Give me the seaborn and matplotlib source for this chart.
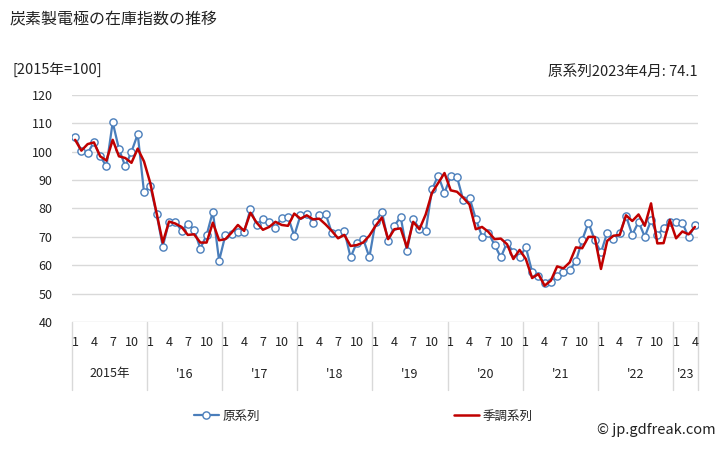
import numpy as np
import pandas as pd
import matplotlib
matplotlib.use("Agg")
import matplotlib.pyplot as plt
from matplotlib.lines import Line2D
import matplotlib.transforms as mtransforms
import seaborn as sns

# ---- data ----
years = ["2015年", "'16", "'17", "'18", "'19", "'20", "'21", "'22", "'23"]
months_per_year = [12, 12, 12, 12, 12, 12, 12, 12, 4]
month_tick_labels = ["1", "4", "7", "10"]

original = [
    105.2, 100.1, 99.6, 103.3, 98.4, 94.9, 110.4, 101.0, 94.9, 100.0, 106.2, 85.8,   # 2015
    87.9, 78.2, 66.6, 75.4, 75.4, 72.1, 74.7, 72.5, 65.9, 70.6, 78.9, 61.6,          # 2016
    70.6, 70.9, 71.8, 71.8, 79.7, 74.2, 76.2, 75.4, 73.3, 76.8, 77.1, 70.4,          # 2017
    77.6, 78.2, 75.0, 77.6, 78.2, 71.5, 71.5, 72.1, 62.8, 68.0, 69.4, 62.8,          # 2018
    75.4, 78.9, 68.4, 73.9, 77.1, 64.9, 76.4, 72.7, 71.9, 86.7, 91.6, 85.5,          # 2019
    91.4, 91.1, 83.0, 83.8, 76.4, 70.1, 71.5, 67.2, 62.8, 68.0, 64.5, 62.8,          # 2020
    66.3, 57.7, 56.3, 53.6, 54.0, 56.1, 57.7, 58.3, 61.4, 68.9, 75.0, 68.9,          # 2021
    64.5, 71.5, 69.2, 71.2, 77.4, 70.7, 75.3, 70.1, 75.8, 70.7, 73.0, 75.3,          # 2022
    75.4, 75.0, 69.8, 74.1,                                                          # 2023
]
seasonal = [
    104.2, 100.4, 102.7, 103.3, 98.4, 96.9, 104.2, 98.4, 97.8, 96.1, 101.1, 96.6,    # 2015
    89.0, 78.5, 68.0, 75.4, 74.7, 73.5, 70.7, 70.9, 68.0, 68.0, 75.0, 68.8,          # 2016
    69.2, 71.5, 74.2, 72.1, 78.5, 75.0, 72.5, 73.5, 75.3, 74.2, 73.9, 78.2,          # 2017
    76.4, 77.6, 76.2, 76.4, 74.4, 72.1, 69.5, 70.7, 66.8, 67.1, 68.0, 70.4,          # 2018
    73.9, 76.8, 69.2, 72.7, 73.0, 66.3, 75.3, 72.7, 77.9, 85.5, 89.0, 92.5,          # 2019
    86.4, 85.9, 83.8, 81.4, 72.7, 73.5, 71.8, 69.2, 69.4, 67.4, 62.2, 65.4,          # 2020
    62.2, 55.5, 56.9, 52.8, 54.6, 59.6, 58.9, 61.0, 66.3, 66.0, 70.0, 70.0,          # 2021
    58.7, 68.6, 70.4, 70.7, 77.6, 75.6, 77.9, 73.9, 81.8, 67.7, 67.8, 76.0,          # 2022
    69.5, 71.9, 70.9, 73.5,                                                          # 2023
]
series_names = ["原系列", "季調系列"]
yticks = [40, 50, 60, 70, 80, 90, 100, 110, 120]

title = "炭素製電極の在庫指数の推移"
unit_label = "[2015年=100]"
latest_label = "原系列2023年4月: 74.1"
credit = "© jp.gdfreak.com"

# ---- style ----
sns.set_theme(style="white")
plt.rcParams["font.family"] = ["Noto Sans CJK JP", "DejaVu Sans"]
TXT = "#222222"
GRID = "#d9d9d9"
BLUE = "#4a7ebb"
RED = "#c00000"

n = len(original)
idx = np.arange(n)
df = pd.DataFrame({"idx": idx, "orig": original, "sa": seasonal})

fig = plt.figure(figsize=(7.28, 4.5), dpi=100)
W, H = 728, 450
x0, x1, ytop, ybot = 72, 698, 95, 322
ax = fig.add_axes([x0 / W, 1 - ybot / H, (x1 - x0) / W, (ybot - ytop) / H])

sns.lineplot(data=df, x="idx", y="orig", ax=ax, color=BLUE, lw=1.6,
             marker="o", markersize=5.2, markerfacecolor="white",
             markeredgecolor=BLUE, markeredgewidth=1.0, legend=False, zorder=3)
sns.lineplot(data=df, x="idx", y="sa", ax=ax, color=RED, lw=1.8,
             legend=False, zorder=4)

ax.set_xlim(-0.5, n - 0.5)
ax.set_ylim(40, 120)
ax.set_yticks(yticks)
ax.set_yticklabels([str(v) for v in yticks], fontsize=9, color=TXT)
ax.tick_params(axis="y", length=0, pad=14)
ax.set_xticks([])
ax.set_xlabel("")
ax.set_ylabel("")
for s in ax.spines.values():
    s.set_visible(False)
for v in yticks:
    ax.axhline(v, color=GRID, lw=1.0, zorder=0)

# category axis (months / years)
trans = mtransforms.blended_transform_factory(ax.transData, ax.transAxes)
axh = ybot - ytop
def ay(py):
    return -(py - ybot) / axh

start = 0
bounds = [-0.5]
for yl, nm in zip(years, months_per_year):
    for k, lab in zip([0, 3, 6, 9], month_tick_labels):
        if k < nm:
            ax.text(start + k, ay(342), lab, transform=trans, ha="center",
                    va="center", fontsize=9, color=TXT)
    ax.text(start + (nm - 1) / 2, ay(374), yl, transform=trans, ha="center",
            va="center", fontsize=9, color=TXT)
    start += nm
    bounds.append(start - 0.5)
for b in bounds:
    ax.plot([b, b], [ay(ybot), ay(390)], transform=trans, color=GRID, lw=1.0,
            clip_on=False)

# texts
fig.text(10 / W, 1 - 20 / H, title, fontsize=11.5, color=TXT, ha="left", va="center")
fig.text(12 / W, 1 - 71 / H, unit_label, fontsize=10.5, color=TXT, ha="left", va="center")
fig.text(698 / W, 1 - 72 / H, latest_label, fontsize=10.5, color=TXT, ha="right", va="center")
fig.text(716 / W, 1 - 430 / H, credit, fontsize=10.5, color=TXT, ha="right", va="center")

handles = [
    Line2D([], [], color=BLUE, lw=1.6, marker="o", markersize=5.2,
           markerfacecolor="white", markeredgecolor=BLUE, markeredgewidth=1.0),
    Line2D([], [], color=RED, lw=1.8),
]
fig.legend(handles, series_names, loc="center", bbox_to_anchor=(363 / W, 1 - 416 / H),
           ncol=2, frameon=False, fontsize=9, handlelength=2.0, handletextpad=0.3,
           columnspacing=15.5, labelcolor=TXT)

fig.savefig("out.png", dpi=100)
